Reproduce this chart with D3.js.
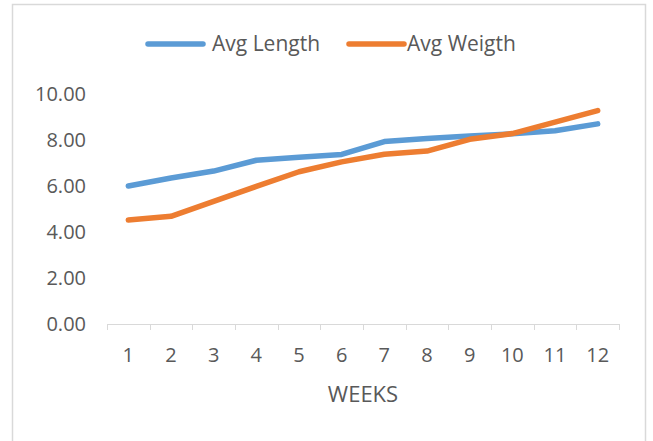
<!DOCTYPE html>
<html>
<head>
<meta charset="utf-8">
<script src="https://cdn.jsdelivr.net/npm/d3@7/dist/d3.min.js"></script>
<style>
  html, body { margin: 0; padding: 0; background: #fff; }
  svg { display: block; }
  text { font-family: "Open Sans", "Noto Sans", sans-serif; fill: #595959; }
</style>
</head>
<body>
<svg id="chart" width="653" height="441"></svg>
<script>
// Weekly averages
const weeks = ["1", "2", "3", "4", "5", "6", "7", "8", "9", "10", "11", "12"];
const avgLength = [6.0, 6.35, 6.65, 7.12, 7.25, 7.37, 7.93, 8.07, 8.17, 8.27, 8.4, 8.7];
const avgWeight = [4.52, 4.68, 5.33, 5.98, 6.62, 7.05, 7.38, 7.52, 8.03, 8.28, 8.78, 9.28];
const yTicks = [0, 2, 4, 6, 8, 10];
const seriesNames = ["Avg Length", "Avg Weigth"];
const seriesColors = ["#5B9BD5", "#ED7D31"];
const xTitle = "WEEKS";

const svg = d3.select("#chart");

// outer frame
svg.append("rect")
  .attr("x", 12.5).attr("y", 4.5)
  .attr("width", 633).attr("height", 440)
  .attr("fill", "#fff")
  .attr("stroke", "#d9d9d9")
  .attr("stroke-width", 1.5);

const plot = { left: 107, right: 619, top: 94, bottom: 324 };

const x = d3.scaleBand().domain(weeks).range([plot.left, plot.right]);
const y = d3.scaleLinear().domain([0, 10]).range([plot.bottom, plot.top]);

// category axis
const xAxis = svg.append("g")
  .attr("transform", `translate(0,${plot.bottom})`)
  .call(d3.axisBottom(x).tickSize(0).tickPadding(0));
xAxis.select(".domain").remove();
xAxis.selectAll("text")
  .attr("y", 38)
  .attr("dy", 0)
  .style("font-size", "20px")
  .style("font-family", "'Open Sans', sans-serif")
  .attr("fill", "#595959");

// axis line and tick marks between categories
svg.append("line")
  .attr("x1", plot.left).attr("x2", plot.right)
  .attr("y1", plot.bottom + 0.5).attr("y2", plot.bottom + 0.5)
  .attr("stroke", "#d9d9d9").attr("stroke-width", 1);
const tickPos = weeks.map(w => x(w)).concat([plot.right]);
svg.selectAll(".xtick").data(tickPos).enter().append("line")
  .attr("class", "xtick")
  .attr("x1", d => Math.round(d) + 0.5).attr("x2", d => Math.round(d) + 0.5)
  .attr("y1", plot.bottom).attr("y2", plot.bottom + 6)
  .attr("stroke", "#d9d9d9").attr("stroke-width", 1);

// value axis labels
const yAxis = svg.append("g")
  .attr("transform", `translate(86,0)`)
  .call(d3.axisLeft(y).tickValues(yTicks).tickFormat(d3.format(".2f")).tickSize(0).tickPadding(0));
yAxis.select(".domain").remove();
yAxis.selectAll("text")
  .style("font-size", "20px")
  .style("font-family", "'Open Sans', sans-serif")
  .attr("fill", "#595959");

// axis title
svg.append("text")
  .attr("x", 363).attr("y", 402)
  .attr("text-anchor", "middle")
  .style("font-size", "22px")
  .text(xTitle);

// series lines
const line = d3.line()
  .x((d, i) => x(weeks[i]) + x.bandwidth() / 2)
  .y(d => y(d));

[avgLength, avgWeight].forEach((vals, k) => {
  svg.append("path")
    .datum(vals)
    .attr("d", line)
    .attr("fill", "none")
    .attr("stroke", seriesColors[k])
    .attr("stroke-width", 5.5)
    .attr("stroke-linecap", "round")
    .attr("stroke-linejoin", "round");
});

// legend
const legendItems = [
  { x0: 148, x1: 203, tx: 212 },
  { x0: 349, x1: 404, tx: 407 }
];
legendItems.forEach((it, k) => {
  svg.append("line")
    .attr("x1", it.x0).attr("x2", it.x1)
    .attr("y1", 44).attr("y2", 44)
    .attr("stroke", seriesColors[k])
    .attr("stroke-width", 5.5)
    .attr("stroke-linecap", "round");
  svg.append("text")
    .attr("x", it.tx).attr("y", 51)
    .style("font-size", "21px")
    .text(seriesNames[k]);
});
</script>
</body>
</html>
